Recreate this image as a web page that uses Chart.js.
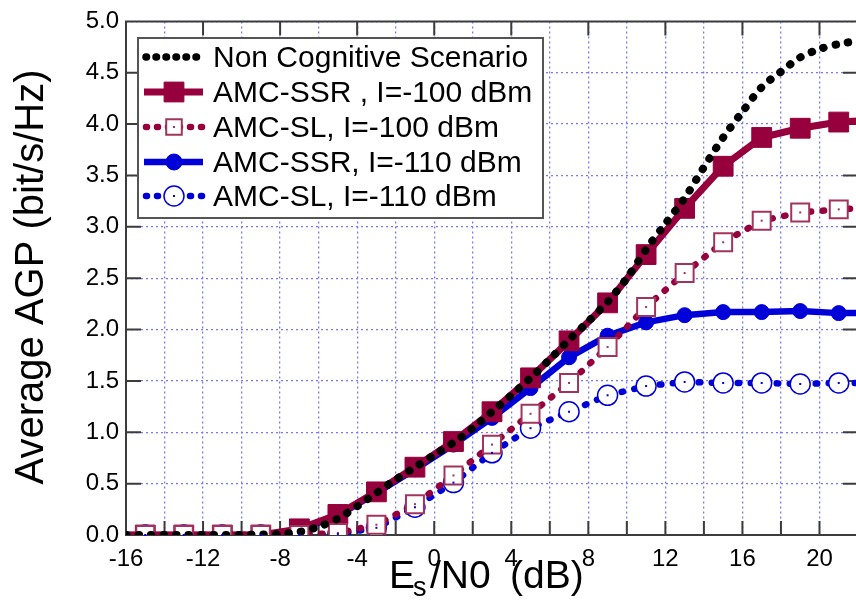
<!DOCTYPE html>
<html>
<head>
<meta charset="utf-8">
<script src="https://cdn.jsdelivr.net/npm/chart.js@4.4.0/dist/chart.umd.min.js"></script>
<style>
  html, body { margin: 0; padding: 0; background: #fff; overflow: hidden; }
  #chart { display: block; }
</style>
</head>
<body>
<canvas id="chart" width="870" height="601"></canvas>
<script>
// Es/N0 steps for the non cognitive curve (dB)
const snrFine = [-16, -15, -14, -13, -12, -11, -10, -9, -8, -7, -6, -5, -4, -3, -2, -1, 0, 1, 2, 3,
  4, 5, 6, 7, 8, 9, 10, 11, 12, 13, 14, 15, 16, 17, 18, 19, 20, 21, 22];
const nonCognitive = [0, 0, 0, 0, 0, 0, 0, 0.005, 0.01, 0.03, 0.08, 0.16, 0.28, 0.41, 0.54, 0.66, 0.78, 0.9, 1.04, 1.2,
  1.36, 1.53, 1.71, 1.9, 2.08, 2.27, 2.5, 2.78, 3.03, 3.28, 3.58, 3.87, 4.12, 4.36, 4.51, 4.65, 4.73, 4.78, 4.81];

// Es/N0 steps for the AMC curves, markers sit on the odd values
const snrMarks = [-16, -15, -13, -11, -9, -7, -5, -3, -1, 1, 3, 5, 7, 9, 11, 13, 15, 17, 19, 21, 22];
const ssr100 = [0, 0, 0, 0, 0, 0.06, 0.2, 0.42, 0.66, 0.91, 1.2, 1.53, 1.89, 2.26, 2.73, 3.18, 3.59, 3.87, 3.96, 4.02, 4.03];
const sl100 = [0, 0, 0, 0, 0, 0, 0.02, 0.1, 0.3, 0.58, 0.88, 1.18, 1.48, 1.83, 2.22, 2.55, 2.85, 3.06, 3.14, 3.17, 3.18];
const ssr110 = [0, 0, 0, 0, 0, 0.05, 0.19, 0.41, 0.64, 0.88, 1.14, 1.43, 1.73, 1.94, 2.07, 2.14, 2.17, 2.17, 2.18, 2.16, 2.16];
const sl110 = [0, 0, 0, 0, 0, 0, 0.01, 0.07, 0.27, 0.51, 0.8, 1.04, 1.2, 1.36, 1.45, 1.49, 1.48, 1.48, 1.47, 1.48, 1.48];

const seriesNames = ['Non Cognitive Scenario', 'AMC-SSR , I=-100 dBm', 'AMC-SL, I=-100 dBm',
  'AMC-SSR, I=-110 dBm', 'AMC-SL, I=-110 dBm'];
const xTickLabels = [-16, -12, -8, -4, 0, 4, 8, 12, 16, 20];

const RED = '#96003c';
const BLUE = '#0000d8';
const FONT = '"Liberation Sans", Arial, sans-serif';

const toPoints = (xs, ys) => xs.map((x, i) => ({ x: x, y: ys[i] }));
const markAt = (r) => (ctx) => (ctx.raw && Math.abs(ctx.raw.x) % 2 === 1 ? r : 0);

function drawMark(ctx, style, x, y, r, fill, stroke, bw, dot) {
  ctx.save();
  ctx.setLineDash([]);
  ctx.fillStyle = fill;
  ctx.strokeStyle = stroke;
  ctx.lineWidth = bw;
  ctx.beginPath();
  if (style === 'rect') {
    const s = r * Math.SQRT1_2;
    ctx.rect(x - s, y - s, 2 * s, 2 * s);
  } else {
    ctx.arc(x, y, r, 0, Math.PI * 2);
  }
  ctx.fill();
  if (bw > 0) ctx.stroke();
  if (dot) {
    ctx.fillStyle = stroke;
    ctx.fillRect(x - 1, y - 1, 2, 2);
  }
  ctx.restore();
}

// frame with inward ticks, like the original plot
const framePlugin = {
  id: 'frame',
  beforeDatasetsDraw(chart) {
    const { ctx, chartArea: a, scales } = chart;
    ctx.save();
    ctx.strokeStyle = '#3c3c3c';
    ctx.lineWidth = 2;
    ctx.beginPath();
    for (let v = -14; v <= 20; v += 2) {
      const px = scales.x.getPixelForValue(v);
      ctx.moveTo(px, a.bottom); ctx.lineTo(px, a.bottom - 14);
      if (v % 4 === 0) { ctx.moveTo(px, a.top); ctx.lineTo(px, a.top + 14); }
    }
    for (let v = 0.5; v < 5; v += 0.5) {
      const py = scales.y.getPixelForValue(v);
      ctx.moveTo(a.left, py); ctx.lineTo(a.left + 15, py);
      ctx.moveTo(a.right, py); ctx.lineTo(a.right - 15, py);
    }
    ctx.stroke();
    ctx.beginPath();
    ctx.rect(a.left, a.top, a.right - a.left, a.bottom - a.top);
    ctx.stroke();
    ctx.restore();
  },
  afterDatasetsDraw(chart) {
    chart.data.datasets.forEach((ds, i) => {
      if (!ds.centerDot) return;
      const ctx = chart.ctx;
      ctx.save();
      ctx.fillStyle = ds.pointBorderColor;
      chart.getDatasetMeta(i).data.forEach((el, j) => {
        if (Math.abs(ds.data[j].x) % 2 === 1) ctx.fillRect(el.x - 1, el.y - 1, 2, 2);
      });
      ctx.restore();
    });
  },
  afterDraw(chart) {
    const ctx = chart.ctx;
    ctx.save();
    // axis titles
    ctx.fillStyle = '#000';
    ctx.textBaseline = 'alphabetic';
    ctx.font = '39px ' + FONT;
    ctx.textAlign = 'left';
    ctx.fillText('E', 389, 588);
    ctx.font = '27px ' + FONT;
    ctx.fillText('s', 413, 596);
    ctx.font = '39px ' + FONT;
    ctx.fillText('/N0', 430, 588);
    ctx.fillText('(dB)', 510, 588);

    ctx.translate(43, 277);
    ctx.rotate(-Math.PI / 2);
    ctx.textAlign = 'center';
    ctx.font = '40px ' + FONT;
    ctx.fillText('Average AGP (bit/s/Hz)', 0, 0);
    ctx.restore();

    // legend box
    ctx.save();
    ctx.fillStyle = '#fff';
    ctx.strokeStyle = '#555';
    ctx.lineWidth = 2;
    ctx.fillRect(138, 38, 405, 180);
    ctx.strokeRect(138, 38, 405, 180);
    const baselines = [67, 102, 137, 172, 206];
    seriesNames.forEach((name, i) => {
      const ds = chart.data.datasets[i];
      const y = baselines[i] - 10;
      ctx.save();
      ctx.strokeStyle = ds.borderColor;
      ctx.lineWidth = ds.legendLineWidth || ds.borderWidth;
      ctx.lineCap = ds.borderCapStyle || 'butt';
      ctx.setLineDash(ds.legendDash || []);
      ctx.beginPath();
      ctx.moveTo(ds.legendDash ? 146 : 144, y);
      ctx.lineTo(203, y);
      ctx.stroke();
      ctx.restore();
      if (ds.legendRadius) {
        drawMark(ctx, ds.pointStyle, 174, y, ds.legendRadius, ds.pointBackgroundColor,
          ds.pointBorderColor, ds.pointBorderWidth, ds.centerDot);
      }
      ctx.fillStyle = '#000';
      ctx.font = '30px ' + FONT;
      ctx.textAlign = 'left';
      ctx.textBaseline = 'alphabetic';
      ctx.fillText(name, 213, baselines[i]);
    });
    ctx.restore();
  }
};

new Chart(document.getElementById('chart'), {
  type: 'line',
  data: {
    datasets: [
      {
        label: seriesNames[0],
        data: toPoints(snrFine, nonCognitive),
        borderColor: '#000',
        borderWidth: 8,
        borderDash: [0.5, 12],
        borderCapStyle: 'round',
        legendDash: [0.5, 9.5],
        legendLineWidth: 7.5,
        pointRadius: 0,
        tension: 0.3,
        order: 0
      },
      {
        label: seriesNames[1],
        data: toPoints(snrMarks, ssr100),
        borderColor: RED,
        borderWidth: 7,
        pointStyle: 'rect',
        pointRadius: markAt(14),
        pointBackgroundColor: RED,
        pointBorderColor: RED,
        pointBorderWidth: 1,
        legendRadius: 14,
        tension: 0,
        order: 2
      },
      {
        label: seriesNames[2],
        data: toPoints(snrMarks, sl100),
        borderColor: RED,
        borderWidth: 6.5,
        borderDash: [1.5, 11.5],
        borderCapStyle: 'round',
        legendDash: [1, 10],
        pointStyle: 'rect',
        pointRadius: markAt(12.7),
        pointBackgroundColor: '#fff',
        pointBorderColor: '#a2335c',
        pointBorderWidth: 2,
        legendRadius: 11,
        centerDot: true,
        tension: 0,
        order: 1
      },
      {
        label: seriesNames[3],
        data: toPoints(snrMarks, ssr110),
        borderColor: BLUE,
        borderWidth: 6.5,
        pointStyle: 'circle',
        pointRadius: markAt(7.5),
        pointBackgroundColor: BLUE,
        pointBorderColor: BLUE,
        pointBorderWidth: 1,
        legendRadius: 8,
        tension: 0,
        order: 4
      },
      {
        label: seriesNames[4],
        data: toPoints(snrMarks, sl110),
        borderColor: BLUE,
        borderWidth: 6.5,
        borderDash: [1.5, 11.5],
        borderCapStyle: 'round',
        legendDash: [1, 10],
        pointStyle: 'circle',
        pointRadius: markAt(10),
        pointBackgroundColor: '#fff',
        pointBorderColor: BLUE,
        pointBorderWidth: 1.5,
        legendRadius: 10,
        centerDot: true,
        tension: 0,
        order: 3
      }
    ]
  },
  options: {
    responsive: false,
    animation: false,
    events: [],
    layout: { padding: { top: 20, right: 12, left: 0, bottom: 0 } },
    plugins: { legend: { display: false }, tooltip: { enabled: false } },
    scales: {
      x: {
        type: 'linear',
        min: -16,
        max: 22,
        afterFit: (s) => { s.height = 66; },
        border: { display: false, dash: [2, 3] },
        grid: { color: '#7878ff', lineWidth: 1.3, drawTicks: false },
        ticks: {
          stepSize: 2,
          autoSkip: false,
          maxRotation: 0,
          padding: 10,
          color: '#000',
          font: { family: FONT, size: 24 },
          callback: (v) => (xTickLabels.includes(v) ? String(v) : '')
        }
      },
      y: {
        min: 0,
        max: 5,
        afterFit: (s) => { s.width = 126; },
        border: { display: false, dash: [2, 3] },
        grid: { color: '#7878ff', lineWidth: 1.3, drawTicks: false },
        ticks: {
          stepSize: 0.5,
          padding: 7,
          color: '#000',
          font: { family: FONT, size: 24 },
          callback: (v) => v.toFixed(1)
        }
      }
    }
  },
  plugins: [framePlugin]
});
</script>
</body>
</html>
